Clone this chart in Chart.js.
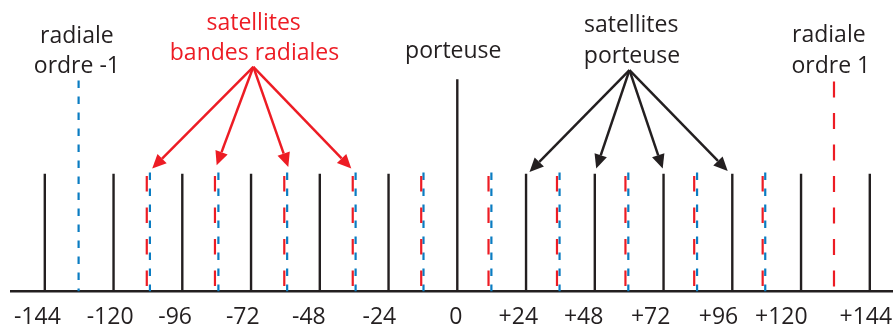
<!DOCTYPE html>
<html>
<head>
<meta charset="utf-8">
<script src="https://cdn.jsdelivr.net/npm/chart.js@4.4.0/dist/chart.umd.min.js"></script>
<style>
  html, body { margin: 0; padding: 0; background: #fff; }
  #wrap { width: 893px; height: 327px; position: relative; }
</style>
</head>
<body>
<div id="wrap"><canvas id="spectrumChart"></canvas></div>
<script>
// spectrum lines: frequency offset (x) and relative height (y)
const carrierFreq = [0];
const carrierHeight = [1.82];

const carrierSatFreq = [-144, -120, -96, -72, -48, -24, 24, 48, 72, 96, 120, 144];
const carrierSatHeight = [1.01, 1.01, 1.01, 1.01, 1.01, 1.01, 1.01, 1.01, 1.01, 1.01, 1.01, 1.01];

const radialRedFreq = [131.5];
const radialRedHeight = [1.8];
const radialBlueFreq = [-132.2];
const radialBlueHeight = [1.81];

const radialSatRedFreq = [-108.4, -84.6, -60.4, -36.5, -12.6, 10.9, 34.8, 58.7, 82.7, 106.6];
const radialSatRedHeight = [0.99, 0.99, 0.99, 0.99, 0.99, 0.99, 0.99, 0.99, 0.99, 0.99];
const radialSatBlueFreq = [-107.3, -83.4, -59.4, -35.5, -11.8, 11.9, 35.7, 59.7, 83.7, 107.5];
const radialSatBlueHeight = [1.02, 1.02, 1.02, 1.02, 1.02, 1.02, 1.02, 1.02, 1.02, 1.02];

// axis labels and where they sit along the axis
const tickLabels = ["-144", "-120", "-96", "-72", "-48", "-24", "0", "+24", "+48", "+72", "+96", "+120", "+144"];
const tickLabelPos = [-146.6, -121.2, -98.5, -74.9, -51.8, -27.2, -0.5, 21.3, 44.1, 67.5, 91.2, 113.1, 142.6];

const BLACK = "#231f20";
const RED = "#ed1c24";
const BLUE = "#0a7cc2";
const FONT = "23px 'Open Sans', sans-serif";

// annotation texts (x, y in chart units)
const notes = [
  { text: "radiale", x: -132.8, y: 2.131, color: BLACK },
  { text: "ordre -1", x: -132.8, y: 1.873, color: BLACK },
  { text: "satellites", x: -71.1, y: 2.242, color: RED },
  { text: "bandes radiales", x: -70.8, y: 1.985, color: RED },
  { text: "porteuse", x: -1.4, y: 2.0, color: BLACK },
  { text: "satellites", x: 60.7, y: 2.225, color: BLACK },
  { text: "porteuse", x: 61.0, y: 1.959, color: BLACK },
  { text: "radiale", x: 129.7, y: 2.139, color: BLACK },
  { text: "ordre 1", x: 130.4, y: 1.873, color: BLACK },
];

// arrows from a common apex to the line tops
const arrows = [
  { color: RED, from: [-71.2, 1.927], to: [[-106.5, 1.054], [-84.0, 1.082], [-59.0, 1.068], [-37.0, 1.054]] },
  { color: BLACK, from: [60.1, 1.899], to: [[25.2, 1.025], [48.5, 1.054], [71.7, 1.054], [94.4, 1.033]] },
];

function stems(xs, hs, color, width, dash) {
  return xs.map((x, i) => ({
    data: [{ x: x, y: hs[i] }, { x: x, y: 0 }],
    borderColor: color,
    borderWidth: width,
    borderDash: dash,
    borderCapStyle: "butt",
    pointRadius: 0,
    fill: false,
  }));
}

const annotationPlugin = {
  id: "annotations",
  afterDatasetsDraw(chart) {
    const ctx = chart.ctx;
    const xs = chart.scales.x;
    const ys = chart.scales.y;
    ctx.save();
    ctx.font = FONT;
    ctx.textAlign = "center";
    ctx.textBaseline = "alphabetic";
    notes.forEach((n) => {
      ctx.fillStyle = n.color;
      ctx.fillText(n.text, xs.getPixelForValue(n.x), ys.getPixelForValue(n.y));
    });

    arrows.forEach((a) => {
      const ax = xs.getPixelForValue(a.from[0]);
      const ay = ys.getPixelForValue(a.from[1]);
      ctx.strokeStyle = a.color;
      ctx.fillStyle = a.color;
      ctx.lineWidth = 2.5;
      a.to.forEach((t) => {
        const tx = xs.getPixelForValue(t[0]);
        const ty = ys.getPixelForValue(t[1]);
        const ang = Math.atan2(ty - ay, tx - ax);
        const headLen = 14;
        const headW = 6.5;
        const bx = tx - headLen * Math.cos(ang);
        const by = ty - headLen * Math.sin(ang);
        ctx.beginPath();
        ctx.moveTo(ax, ay);
        ctx.lineTo(bx, by);
        ctx.stroke();
        ctx.beginPath();
        ctx.moveTo(tx, ty);
        ctx.lineTo(bx - headW * Math.sin(ang), by + headW * Math.cos(ang));
        ctx.lineTo(bx + headW * Math.sin(ang), by - headW * Math.cos(ang));
        ctx.closePath();
        ctx.fill();
      });
    });
    ctx.restore();
  },
};

const datasets = [].concat(
  stems(carrierSatFreq, carrierSatHeight, BLACK, 2.4, []),
  stems(carrierFreq, carrierHeight, BLACK, 2.4, []),
  stems(radialSatRedFreq, radialSatRedHeight, RED, 2.2, [15.5, 16]),
  stems(radialSatBlueFreq, radialSatBlueHeight, BLUE, 2.2, [7.5, 8.5]),
  stems(radialRedFreq, radialRedHeight, RED, 2.2, [16, 15.5]),
  stems(radialBlueFreq, radialBlueHeight, BLUE, 2.2, [7.5, 8.5])
);

new Chart(document.getElementById("spectrumChart"), {
  type: "line",
  data: { datasets: datasets },
  plugins: [annotationPlugin],
  options: {
    responsive: true,
    maintainAspectRatio: false,
    animation: false,
    layout: { padding: { left: 11, right: 0, top: 0, bottom: -16 } },
    plugins: {
      legend: { display: false },
      tooltip: { enabled: false },
    },
    scales: {
      x: {
        type: "linear",
        min: -155.8,
        max: 152.1,
        grid: { display: false, drawTicks: false },
        border: { display: true, color: BLACK, width: 2.5 },
        afterBuildTicks: (axis) => {
          axis.ticks = tickLabelPos.map((v) => ({ value: v }));
        },
        afterFit: (axis) => {
          // labels stay inside the canvas, no extra side padding needed
          axis.paddingLeft = 0;
          axis.paddingRight = 0;
        },
        ticks: {
          autoSkip: false,
          maxRotation: 0,
          padding: 12,
          color: BLACK,
          font: { family: "'Open Sans', sans-serif", size: 23 },
          callback: (value, index) => tickLabels[index],
        },
      },
      y: {
        display: false,
        min: 0,
        max: 2.5,
      },
    },
  },
});
</script>
</body>
</html>
